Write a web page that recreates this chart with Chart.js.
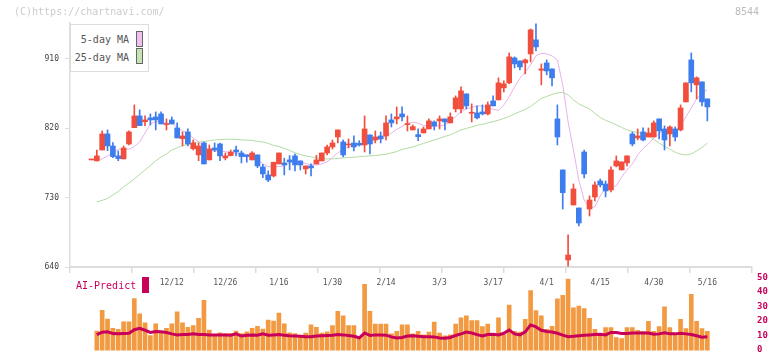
<!DOCTYPE html>
<html><head><meta charset="utf-8">
<script src="https://cdn.jsdelivr.net/npm/chart.js@4/dist/chart.umd.min.js"></script>
<style>
html,body{margin:0;padding:0;background:#fff}
#wrap{position:relative;width:772px;height:361px;overflow:hidden;background:#fff;font-family:"DejaVu Sans Mono",monospace}
canvas{position:absolute;left:0}
.t{position:absolute;white-space:nowrap;line-height:12px}
#wm{left:14px;top:6px;font-size:10px;color:#cccccc}
#code{left:735px;top:6px;font-size:10px;color:#bbbbbb}
#legend{position:absolute;left:70px;top:24px;width:79px;height:48px;border:1px solid #dddddd;background:#fff;box-sizing:border-box}
.lt{font-size:10px;color:#555;right:19px}
.sw{position:absolute;left:65px;width:5px;height:14px;border:1px solid #666}
#ai{left:76px;top:280px;font-size:10px;color:#c8005a}
#aisw{position:absolute;left:142px;top:277px;width:7px;height:16px;background:#c8005a}
</style></head>
<body>
<div id="wrap">
<canvas id="main" width="772" height="361" style="top:0"></canvas>
<canvas id="vol" width="772" height="93" style="top:268px"></canvas>
<div class="t" id="wm">(C)https://chartnavi.com/</div>
<div class="t" id="code">8544</div>
<div id="legend">
  <div class="t lt" style="top:9px">5-day MA</div>
  <div class="sw" style="top:6px;background:#f0c0f0"></div>
  <div class="t lt" style="top:27px">25-day MA</div>
  <div class="sw" style="top:23px;background:#c4e4b4"></div>
</div>
<div class="t" id="ai">AI-Predict</div>
<div id="aisw"></div>
</div>
<script>
const opens=[779,777.7,791.9,812.7,797.1,784.2,780.3,799.7,820.9,836.1,
828.5,833.5,834.8,838.7,824.8,830.9,820.5,806.6,815.3,793.6,
785.5,801.0,779.0,794.5,799.7,781.6,784.6,791.9,788.0,785.5,
779.0,785.5,769.9,759.5,758.2,773.8,775.1,779.0,784.2,777.7,
767.3,771.2,773.8,777.7,788.0,795.8,808.8,802.3,798.4,801.0,
800.6,798.4,811.4,804.9,810.1,810.1,830.9,832.2,838.7,824.8,
817.9,811.8,814.0,819.2,828.3,829.6,832.2,827.0,845.2,845.2,
864.7,839.6,840.0,841.3,838.7,855.6,856.9,872.5,879.0,911.4,
907.5,904.9,916.6,934.8,895.4,904.9,897.1,832.2,766.0,649.1,
720.5,716.6,789.3,715.3,730.9,751.7,747.8,740.0,771.2,766.0,
775.1,812.7,807.5,815.3,808.8,808.8,832.2,819.2,812.7,819.2,
817.9,854.3,908.8,876.4,880.3,858.2];
const highs=[779,791.9,816.6,817.9,801.4,790.6,797.1,816.6,850.4,843.9,
836.1,838.7,841.3,841.3,832.2,834.8,827.0,815.3,819.2,804.9,
801.0,802.3,798.4,801.0,801.0,788.0,791.9,797.1,790.6,785.5,
789.7,785.5,773.4,764.7,776.0,788.0,781.2,784.6,786.7,777.7,
771.2,773.8,784.8,788.0,798.4,804.9,817.9,804.9,806.2,810.1,
804.0,836.1,811.4,816.6,815.3,836.1,838.7,847.8,847.8,836.1,
824.4,819.2,821.8,832.2,829.6,836.1,832.2,840.0,862.1,873.8,
864.7,851.7,849.1,850.4,854.3,862.1,885.5,881.6,917.9,912.7,
907.5,910.1,949.1,955.6,903.6,908.8,897.1,850.4,766.0,681.6,
747.8,716.6,791.9,732.2,750.4,754.3,751.7,769.9,784.2,776.4,
784.2,815.3,819.2,820.5,820.5,829.6,832.2,823.1,823.1,821.8,
850.4,879.0,917.9,886.8,880.3,858.2];
const lows=[779,777.7,791.9,791.0,782.0,778.0,780.3,798.4,820.9,823.5,
823.5,824.4,817.9,825.7,817.9,825.7,807.5,797.1,797.1,791.9,
778.0,773.8,779.0,789.7,778.0,779.0,784.2,784.2,775.1,776.0,
779.0,769.0,756.0,750.8,756.9,773.8,759.5,766.0,764.7,766.0,
760.8,758.2,773.8,777.7,785.5,793.2,801.0,783.0,794.5,790.6,
797.0,789.3,786.7,801.0,801.0,804.9,821.8,825.7,829.6,816.6,
817.9,804.0,814.0,819.2,817.9,819.2,817.9,827.0,841.3,840.0,
845.2,828.3,832.2,837.4,837.4,849.1,856.9,867.3,877.7,898.4,
895.8,890.6,906.2,920.5,876.4,889.4,875.1,798.4,715.3,641.0,
720.5,693.3,755.6,706.2,725.7,743.9,730.9,737.4,769.9,766.0,
771.2,797.1,804.9,803.6,808.8,808.8,806.2,791.9,797.1,803.6,
816.6,854.3,867.3,858.2,849.1,829.6];
const closes=[779,784.2,812.7,797.2,783.3,780.7,794.5,815.3,836.1,823.5,
830.9,830.9,830.9,825.7,826.1,825.7,807.5,810.1,799.7,801.0,
797.1,773.8,793.2,791.9,784.2,784.2,789.3,789.3,783.3,783.3,
788.0,771.2,760.8,753.0,776.0,788.0,772.5,776.4,772.5,772.5,
771.2,768.6,779.0,788.0,795.8,801.0,817.9,785.5,799.7,795.8,
798.4,819.2,799.7,808.8,806.2,827.0,827.0,834.8,834.8,826.1,
822.2,809.2,819.2,829.6,823.1,832.2,828.3,834.8,859.5,868.6,
849.1,840.9,833.5,838.7,850.4,849.1,879.0,877.7,912.7,903.6,
899.7,908.8,947.8,925.7,897.1,894.5,885.5,808.8,736.5,655.6,
741.3,697.1,760.8,727.0,746.5,746.5,738.7,766.0,777.7,776.4,
784.2,799.7,810.1,804.9,814.0,827.0,816.6,804.9,821.8,808.8,
846.5,879.0,879.0,885.5,854.3,847.8];
const ma5=[null,
778.6,780.3,784.2,787.7,792.6,792.9,792.9,796.2,802.3,814.0,
825.7,828.7,828.7,826.6,826.6,821.2,816.6,814.0,807.5,802.3,
795.2,791.6,790.6,790.6,789.7,788.4,787.1,786.5,786.1,784.8,
780.3,773.8,770.3,769.9,770.5,771.2,775.1,776.4,776.0,774.4,
772.5,772.5,773.8,776.4,782.2,788.1,792.9,795.8,797.8,798.4,
799.1,801.0,804.3,806.9,810.1,814.0,818.6,822.5,826.6,827.9,
826.6,823.8,822.2,822.5,823.1,824.4,829.6,835.2,841.3,845.2,
847.1,849.1,849.1,847.1,844.8,843.2,850.4,860.8,873.8,885.1,
893.2,902.3,914.0,917.5,916.6,914.0,908.8,876.4,828.3,791.9,
753.0,727.0,716.6,718.3,732.2,743.2,744.3,745.2,756.9,766.0,
773.8,785.5,793.9,799.7,807.5,813.1,817.9,815.7,814.0,823.1,
834.8,846.5,858.2,866.0,869.9];
const ma25=[null,
724.4,726.4,729.0,733.5,738.1,743.9,749.1,754.3,760.1,766.0,
771.8,777.7,782.9,786.7,791.9,794.5,797.8,799.1,801.0,802.3,
802.7,804.0,804.9,805.3,805.8,805.8,805.6,804.9,804.7,804.3,
803.0,802.3,800.4,797.8,796.5,793.9,791.3,788.1,786.1,784.2,
782.9,781.6,780.3,780.3,780.3,780.9,781.6,782.0,782.6,783.1,
783.8,784.2,784.8,785.5,786.4,788.1,789.7,792.6,794.2,795.8,
798.2,800.4,802.6,804.9,807.1,809.5,811.7,814.7,817.9,819.9,
821.8,823.8,825.1,827.0,828.7,830.5,832.9,835.5,838.7,841.7,
844.5,848.4,853.6,858.8,861.4,864.0,866.0,866.6,863.4,856.9,
851.7,848.4,845.2,839.3,834.2,830.3,827.7,824.4,821.2,817.9,
816.0,814.7,813.6,810.1,805.6,801.0,796.5,792.9,789.0,786.4,
785.5,786.7,790.6,795.2,800.7];
const volume=[null,
13.6,28.0,21.8,15.5,14.7,19.9,19.9,36.1,25.5,19.3,
10.5,18.6,12.4,15.5,18.6,26.8,19.3,16.1,17.4,22.4,
34.9,14.3,11.1,12.4,11.8,11.8,13.6,11.8,13.0,15.5,
16.8,14.9,21.1,20.5,26.1,18.6,12.4,11.8,10.5,12.2,
17.8,16.1,12.2,13.0,17.4,27.2,24.1,17.4,17.4,9.5,
45.9,27.2,18.4,18.4,18.4,11.6,13.4,17.8,17.8,11.6,
13.4,10.9,12.8,19.7,12.2,10.3,10.9,18.4,22.8,24.1,
20.9,20.9,16.6,18.4,11.6,22.8,10.9,31.6,13.4,12.8,
21.6,41.6,27.8,24.1,14.7,16.8,35.9,38.4,49.7,29.7,
30.9,29.1,22.4,14.7,10.9,15.9,15.9,9.1,8.4,15.9,
15.9,14.1,13.4,20.3,13.4,16.6,30.3,15.9,10.9,21.6,
15.3,39.1,20.3,15.3,13.4];
const aiPredict=[null,
11.1,12.8,13.0,11.8,11.6,11.8,12.0,14.5,15.5,14.1,
12.6,13.2,13.0,12.6,11.6,10.9,11.1,11.1,11.6,11.1,
11.1,10.9,10.9,10.9,10.9,10.7,11.6,10.1,10.7,10.9,
10.7,11.6,10.7,10.9,11.1,10.7,10.3,10.1,9.9,9.6,
9.6,10.1,10.3,10.5,10.7,11.1,10.9,10.5,9.9,8.9,
12.2,10.5,10.9,10.9,10.7,9.5,8.7,9.1,10.1,10.3,
9.9,9.6,9.6,9.5,8.7,8.5,9.1,10.5,11.6,12.8,
12.2,11.1,10.1,11.1,11.3,10.9,12.0,14.3,11.6,10.9,
13.0,17.8,16.4,14.1,13.3,12.9,12.0,10.7,9.6,9.9,
10.3,10.7,10.9,11.1,11.3,10.9,12.6,12.6,11.8,11.8,
12.2,12.2,12.2,12.2,11.3,11.6,12.4,11.6,11.6,12.0,
11.6,11.1,10.3,9.3,9.6];
const tickIndex=[15,25,35,45,55,65,75,85,95,105,115];
const tickLabels=['12/12','12/26','1/16','1/30','2/14','3/3','3/17','4/1','4/15','4/30','5/16'];
const priceTicks=[640,730,820,910];
const volTicks=[0,10,20,30,40,50];

const UP='#f14e3d', DOWN='#3e7ded';
const MONO='"DejaVu Sans Mono", monospace';
const XMIN=-4.01, XMAX=123.34;
const idx=opens.map((_,i)=>i);
const colors=idx.map(i=>closes[i]>=opens[i]?UP:DOWN);
const bodies=idx.map(i=>({x:i,y:[opens[i],closes[i]]}));
const wicks=idx.map(i=>({x:i,y:[lows[i],highs[i]]}));
const pts=a=>idx.filter(i=>a[i]!=null).map(i=>({x:i,y:a[i]}));

new Chart(document.getElementById('main'),{
  type:'bar',
  data:{datasets:[
    {type:'bar',xAxisID:'x',yAxisID:'y',data:bodies,backgroundColor:colors,barThickness:5,grouped:false,minBarLength:1,borderWidth:0,order:1},
    {type:'bar',xAxisID:'x',yAxisID:'y',data:wicks,backgroundColor:colors,barThickness:1,grouped:false,borderWidth:0,order:2},
    {type:'line',xAxisID:'x',yAxisID:'y',data:pts(ma5),borderColor:'#e8b2ea',borderWidth:1,pointRadius:0,tension:0,order:3},
    {type:'line',xAxisID:'x',yAxisID:'y',data:pts(ma25),borderColor:'#b2dba2',borderWidth:1,pointRadius:0,tension:0,order:4}
  ]},
  options:{
    responsive:false,animation:false,devicePixelRatio:1,
    layout:{padding:{left:0,right:20,top:23,bottom:68}},
    plugins:{legend:{display:false},tooltip:{enabled:false}},
    scales:{
      xt:{type:'linear',position:'bottom',min:0,max:11,offset:false,weight:0,
        afterFit:s=>{s.height=6;},
        ticks:{display:false,stepSize:1},
        grid:{display:true,offset:false,drawOnChartArea:false,drawTicks:true,tickLength:6,color:'#dddddd',lineWidth:1.5},
        border:{display:true,color:'#dddddd',width:2}},
      x:{type:'linear',position:'bottom',min:XMIN,max:XMAX,offset:false,weight:1,
        afterFit:s=>{s.height=20;},
        afterBuildTicks:s=>{s.ticks=tickIndex.map(v=>({value:v}));},
        ticks:{autoSkip:false,maxRotation:0,padding:5,color:'#555555',font:{family:MONO,size:8},
          callback:v=>tickLabels[tickIndex.indexOf(v)]},
        grid:{display:false,drawTicks:false,offset:false},border:{display:false}},
      y:{type:'linear',position:'left',min:640,max:956.7,
        afterFit:s=>{s.width=70;},
        afterBuildTicks:s=>{s.ticks=priceTicks.map(v=>({value:v}));},
        ticks:{padding:6,color:'#444444',font:{family:MONO,size:8}},
        grid:{drawOnChartArea:false,drawTicks:true,tickLength:5,color:'#dddddd'},
        border:{display:true,color:'#dddddd',width:1.5}}
    }
  }
});

new Chart(document.getElementById('vol'),{
  type:'bar',
  data:{datasets:[
    {type:'line',data:pts(aiPredict),borderColor:'#c8005a',borderWidth:3,pointRadius:0,tension:0,order:0},
    {type:'bar',data:pts(volume),backgroundColor:'#f29a42',barThickness:4,borderWidth:0,order:1}
  ]},
  options:{
    responsive:false,animation:false,devicePixelRatio:1,
    layout:{padding:{left:70,right:0,top:10.5,bottom:2.5}},
    plugins:{legend:{display:false},tooltip:{enabled:false}},
    scales:{
      x:{type:'linear',display:false,min:XMIN,max:XMAX,offset:false},
      y:{type:'linear',position:'right',min:0,max:50,
        afterFit:s=>{s.width=20;},
        afterBuildTicks:s=>{s.ticks=volTicks.map(v=>({value:v}));},
        ticks:{padding:5,labelOffset:-1,color:'#c8005a',font:{family:MONO,size:9,weight:'bold'}},
        grid:{display:false,drawTicks:false},border:{display:false}}
    }
  }
});
</script>
</body></html>
